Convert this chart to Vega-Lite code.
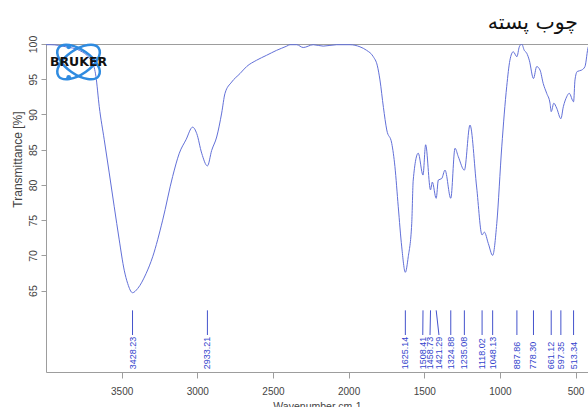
{
  "$schema": "https://vega.github.io/schema/vega-lite/v6.json",
  "width": 542,
  "height": 328,
  "autosize": {"type": "none"},
  "padding": {"left": 46, "top": 44, "right": 0, "bottom": 35},
  "background": "white",
  "title": {
    "text": "چوب پسته",
    "anchor": "end",
    "dx": -10,
    "offset": 2,
    "font": "DejaVu Sans",
    "fontSize": 20.5,
    "fontWeight": "normal",
    "color": "#111111"
  },
  "config": {
    "view": {"stroke": "#9d9d9d", "strokeWidth": 1},
    "axis": {
      "grid": false,
      "domain": false,
      "tickColor": "#9d9d9d",
      "tickSize": 5,
      "labelColor": "#444444",
      "titleColor": "#444444",
      "labelFont": "Liberation Sans",
      "titleFont": "Liberation Sans",
      "labelFontSize": 10,
      "titleFontSize": 10.5,
      "titleFontWeight": "normal"
    }
  },
  "datasets": {
    "spectrum": [
      {"wn": 4000, "T": 99.9}, {"wn": 3967, "T": 99.9}, {"wn": 3868, "T": 99.6},
      {"wn": 3780, "T": 99.1}, {"wn": 3692, "T": 97.3}, {"wn": 3670, "T": 95.4},
      {"wn": 3648, "T": 91.1}, {"wn": 3615, "T": 86.4}, {"wn": 3582, "T": 81.7},
      {"wn": 3549, "T": 76.9}, {"wn": 3516, "T": 72.2}, {"wn": 3483, "T": 67.9},
      {"wn": 3460, "T": 66.0}, {"wn": 3428.23, "T": 64.7}, {"wn": 3394, "T": 65.3},
      {"wn": 3339, "T": 67.4}, {"wn": 3295, "T": 69.8}, {"wn": 3229, "T": 75.0},
      {"wn": 3163, "T": 81.2}, {"wn": 3119, "T": 84.5}, {"wn": 3075, "T": 86.4},
      {"wn": 3031, "T": 88.2}, {"wn": 3004, "T": 87.3}, {"wn": 2971, "T": 84.5},
      {"wn": 2933.21, "T": 82.7}, {"wn": 2905, "T": 84.9}, {"wn": 2872, "T": 86.8},
      {"wn": 2839, "T": 90.2}, {"wn": 2817, "T": 93.0}, {"wn": 2773, "T": 94.6},
      {"wn": 2718, "T": 95.8}, {"wn": 2674, "T": 96.8}, {"wn": 2608, "T": 97.7},
      {"wn": 2542, "T": 98.4}, {"wn": 2476, "T": 99.1}, {"wn": 2409, "T": 99.7},
      {"wn": 2388, "T": 99.9}, {"wn": 2343, "T": 99.9}, {"wn": 2300, "T": 99.5},
      {"wn": 2234, "T": 99.9}, {"wn": 2168, "T": 99.7}, {"wn": 2079, "T": 99.9},
      {"wn": 1991, "T": 99.9}, {"wn": 1925, "T": 99.6}, {"wn": 1881, "T": 99.1},
      {"wn": 1837, "T": 98.2}, {"wn": 1810, "T": 96.9}, {"wn": 1793, "T": 94.9},
      {"wn": 1770, "T": 91.0}, {"wn": 1748, "T": 87.8}, {"wn": 1715, "T": 85.9},
      {"wn": 1694, "T": 82.6}, {"wn": 1672, "T": 76.9}, {"wn": 1649, "T": 71.2},
      {"wn": 1625.14, "T": 67.6}, {"wn": 1606, "T": 69.8}, {"wn": 1583, "T": 74.5},
      {"wn": 1573, "T": 80.7}, {"wn": 1540, "T": 84.5}, {"wn": 1508.41, "T": 81.4},
      {"wn": 1491, "T": 85.7}, {"wn": 1458.73, "T": 79.3}, {"wn": 1447, "T": 80.4},
      {"wn": 1421.29, "T": 78.1}, {"wn": 1407, "T": 80.7}, {"wn": 1385, "T": 80.9},
      {"wn": 1363, "T": 82.1}, {"wn": 1324.88, "T": 78.1}, {"wn": 1297, "T": 85.2},
      {"wn": 1275, "T": 84.0}, {"wn": 1235.08, "T": 82.1}, {"wn": 1198, "T": 88.5},
      {"wn": 1154, "T": 79.7}, {"wn": 1118.02, "T": 72.9}, {"wn": 1103, "T": 73.3},
      {"wn": 1077, "T": 71.7}, {"wn": 1048.13, "T": 70.0}, {"wn": 1021, "T": 74.5},
      {"wn": 988, "T": 85.4}, {"wn": 955, "T": 94.0}, {"wn": 934, "T": 97.7},
      {"wn": 912, "T": 98.9}, {"wn": 887.86, "T": 98.2}, {"wn": 872, "T": 99.6},
      {"wn": 856, "T": 100.0}, {"wn": 839, "T": 99.1}, {"wn": 823, "T": 98.7},
      {"wn": 806, "T": 97.7}, {"wn": 778.3, "T": 95.1}, {"wn": 757, "T": 96.8},
      {"wn": 735, "T": 96.3}, {"wn": 714, "T": 94.4}, {"wn": 691, "T": 93.0},
      {"wn": 669, "T": 91.6}, {"wn": 661.12, "T": 90.4}, {"wn": 644, "T": 91.6},
      {"wn": 625, "T": 90.9}, {"wn": 597.35, "T": 89.4}, {"wn": 581, "T": 91.1},
      {"wn": 559, "T": 92.5}, {"wn": 542, "T": 93.0}, {"wn": 513.34, "T": 91.8},
      {"wn": 504, "T": 94.9}, {"wn": 489, "T": 96.1}, {"wn": 460, "T": 96.3},
      {"wn": 438, "T": 96.8}, {"wn": 416, "T": 99.6}, {"wn": 400, "T": 100.0}
    ],
    "peaks": [
      {"wn": 3428.23, "lw": 3428.23, "label": "3428.23"},
      {"wn": 2933.21, "lw": 2933.21, "label": "2933.21"},
      {"wn": 1625.14, "lw": 1625.14, "label": "1625.14"},
      {"wn": 1508.41, "lw": 1510, "label": "1508.41"},
      {"wn": 1458.73, "lw": 1462, "label": "1458.73"},
      {"wn": 1421.29, "lw": 1403, "label": "1421.29"},
      {"wn": 1324.88, "lw": 1324.88, "label": "1324.88"},
      {"wn": 1235.08, "lw": 1235.08, "label": "1235.08"},
      {"wn": 1118.02, "lw": 1118.02, "label": "1118.02"},
      {"wn": 1048.13, "lw": 1048.13, "label": "1048.13"},
      {"wn": 887.86, "lw": 887.86, "label": "887.86"},
      {"wn": 778.3, "lw": 778.3, "label": "778.30"},
      {"wn": 661.12, "lw": 661.12, "label": "661.12"},
      {"wn": 597.35, "lw": 597.35, "label": "597.35"},
      {"wn": 513.34, "lw": 513.34, "label": "513.34"}
    ],
    "logo": [
      {"part": "ring", "wn": 3785, "T": 97.44, "name": "BRUKER"},
      {"part": "dot", "wn": 3850, "T": 99.6, "name": ""},
      {"part": "dot", "wn": 3850, "T": 95.27, "name": ""}
    ]
  },
  "layer": [
    {
      "data": {"name": "spectrum"},
      "mark": {"type": "line", "color": "#6270d8", "strokeWidth": 1, "interpolate": "monotone", "clip": true},
      "encoding": {
        "x": {
          "field": "wn",
          "type": "quantitative",
          "scale": {"domain": [4000, 418], "nice": false, "zero": false},
          "axis": {
            "title": "Wavenumber cm-1",
            "values": [500, 1000, 1500, 2000, 2500, 3000, 3500],
            "format": "d",
            "labelPadding": 8,
            "tickSize": 6,
            "titleBaseline": "top",
            "titleY": 29
          }
        },
        "y": {
          "field": "T",
          "type": "quantitative",
          "scale": {"domain": [53.45, 100], "nice": false, "zero": false},
          "axis": {
            "title": "Transmittance [%]",
            "values": [65, 70, 75, 80, 85, 90, 95, 100],
            "labelAngle": 270,
            "labelAlign": "center",
            "labelBaseline": "bottom",
            "labelPadding": 3,
            "labelFontSize": 10.5,
            "titleFontSize": 12,
            "titleAngle": 270,
            "titleAlign": "center",
            "titleBaseline": "middle",
            "titleX": -29,
            "titleY": 115
          }
        }
      }
    },
    {
      "data": {"name": "peaks"},
      "mark": {"type": "rule", "color": "#4453cc", "strokeWidth": 1},
      "encoding": {
        "x": {"field": "wn", "type": "quantitative", "scale": {"domain": [4000, 418], "nice": false, "zero": false}},
        "x2": {"field": "lw"},
        "y": {"datum": 62.2, "scale": {"domain": [53.45, 100], "nice": false, "zero": false}},
        "y2": {"datum": 58.7}
      }
    },
    {
      "data": {"name": "peaks"},
      "mark": {
        "type": "text",
        "angle": 270,
        "align": "left",
        "baseline": "middle",
        "color": "#3344cc",
        "font": "Liberation Sans",
        "fontSize": 9
      },
      "encoding": {
        "x": {"field": "lw", "type": "quantitative", "scale": {"domain": [4000, 418], "nice": false, "zero": false}},
        "y": {"datum": 53.83, "scale": {"domain": [53.45, 100], "nice": false, "zero": false}},
        "text": {"field": "label"}
      }
    },
    {
      "data": {"name": "logo"},
      "transform": [{"filter": "datum.part === 'ring'"}],
      "mark": {
        "type": "point",
        "shape": "M -0.819 -0.574 A 1 0.5 35 1 1 0.819 0.574 A 1 0.5 35 1 1 -0.819 -0.574 Z",
        "size": 2400,
        "filled": false,
        "stroke": "#2f8be0",
        "strokeWidth": 2.5,
        "opacity": 1
      },
      "encoding": {
        "x": {"field": "wn", "type": "quantitative"},
        "y": {"field": "T", "type": "quantitative"}
      }
    },
    {
      "data": {"name": "logo"},
      "transform": [{"filter": "datum.part === 'ring'"}],
      "mark": {
        "type": "point",
        "shape": "M -0.819 0.574 A 1 0.5 -35 1 1 0.819 -0.574 A 1 0.5 -35 1 1 -0.819 0.574 Z",
        "size": 2400,
        "filled": false,
        "stroke": "#2f8be0",
        "strokeWidth": 2.5,
        "opacity": 1
      },
      "encoding": {
        "x": {"field": "wn", "type": "quantitative"},
        "y": {"field": "T", "type": "quantitative"}
      }
    },
    {
      "data": {"name": "logo"},
      "transform": [{"filter": "datum.part === 'dot'"}],
      "mark": {"type": "point", "shape": "circle", "size": 22, "filled": true, "color": "#2f8be0", "opacity": 1},
      "encoding": {
        "x": {"field": "wn", "type": "quantitative"},
        "y": {"field": "T", "type": "quantitative"}
      }
    },
    {
      "data": {"name": "logo"},
      "transform": [{"filter": "datum.part === 'ring'"}],
      "mark": {
        "type": "text",
        "font": "DejaVu Sans",
        "fontWeight": "bold",
        "fontSize": 12.5,
        "color": "#111111",
        "align": "center",
        "baseline": "middle"
      },
      "encoding": {
        "x": {"field": "wn", "type": "quantitative"},
        "y": {"field": "T", "type": "quantitative"},
        "text": {"field": "name"}
      }
    }
  ]
}
